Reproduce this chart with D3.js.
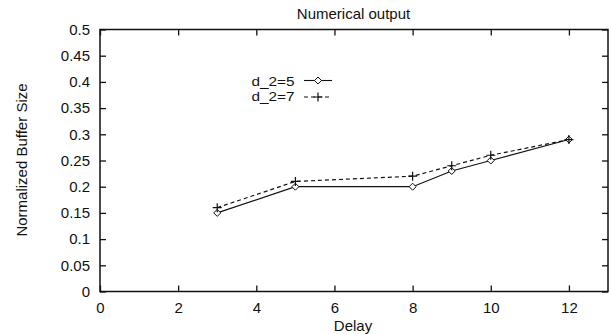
<!DOCTYPE html>
<html>
<head>
<script src="https://cdn.jsdelivr.net/npm/d3@7"></script>
<style>
  body { margin: 0; background: #fff; }
  text { font-family: "Liberation Sans", Arial, sans-serif; fill: #111; }
</style>
</head>
<body>
<div id="chart"></div>
<script>
// data
var delays = [3, 5, 8, 9, 10, 12];
var d2_5 = [0.15, 0.2, 0.2, 0.23, 0.25, 0.29];
var d2_7 = [0.16, 0.21, 0.22, 0.24, 0.26, 0.29];
var xTicks = [0, 2, 4, 6, 8, 10, 12];
var yTicks = [0, 0.05, 0.1, 0.15, 0.2, 0.25, 0.3, 0.35, 0.4, 0.45, 0.5];

var W = 611, H = 334;
var margin = { top: 29.5, right: 3, bottom: 42.5, left: 100 };
var width = W - margin.left - margin.right;
var height = H - margin.top - margin.bottom;

var svg = d3.select("#chart").append("svg")
    .attr("width", W).attr("height", H);
var g = svg.append("g")
    .attr("transform", "translate(" + margin.left + "," + margin.top + ")");

var x = d3.scaleLinear().domain([0, 13]).range([0, width]);
var y = d3.scaleLinear().domain([0, 0.5]).range([height, 0]);

// frame
g.append("rect").attr("width", width).attr("height", height)
    .attr("fill", "none").attr("stroke", "#111").attr("stroke-width", 1.5);

// axes with inward ticks, mirrored on top/right
var fmt = function (d) { return d3.format("")(+d.toFixed(2)); };
var xb = g.append("g").attr("transform", "translate(0," + height + ")")
    .call(d3.axisBottom(x).tickValues(xTicks).tickSize(-6).tickPadding(11.3).tickFormat(fmt));
var xt = g.append("g")
    .call(d3.axisTop(x).tickValues(xTicks).tickSize(-6).tickFormat(""));
var yl = g.append("g")
    .call(d3.axisLeft(y).tickValues(yTicks).tickSize(-6).tickPadding(10).tickFormat(fmt));
var yr = g.append("g").attr("transform", "translate(" + width + ",0)")
    .call(d3.axisRight(y).tickValues(yTicks).tickSize(-6).tickFormat(""));
[xb, xt, yl, yr].forEach(function (a) {
    a.select(".domain").remove();
    a.selectAll("line").attr("stroke", "#111").attr("stroke-width", 1.3);
    a.selectAll("text").style("font-size", "15px")
        .style("font-family", "'Liberation Sans', Arial, sans-serif").attr("fill", "#111");
});

var line = d3.line().x(function (d) { return x(d[0]); }).y(function (d) { return y(d[1]); });
var s5 = d3.zip(delays, d2_5);
var s7 = d3.zip(delays, d2_7);

g.append("path").datum(s5).attr("d", line)
    .attr("fill", "none").attr("stroke", "#111").attr("stroke-width", 1.2);
g.append("path").datum(s7).attr("d", line)
    .attr("fill", "none").attr("stroke", "#111").attr("stroke-width", 1.2)
    .attr("stroke-dasharray", "4,3");

function diamond(sel, cx, cy) {
    sel.append("path")
        .attr("d", "M" + cx + "," + (cy - 3.5) + "L" + (cx + 3.5) + "," + cy + "L" + cx + "," + (cy + 3.5) + "L" + (cx - 3.5) + "," + cy + "Z")
        .attr("fill", "#fff").attr("stroke", "#111").attr("stroke-width", 1);
}
function plus(sel, cx, cy) {
    sel.append("path")
        .attr("d", "M" + (cx - 4.5) + "," + cy + "H" + (cx + 4.5) + "M" + cx + "," + (cy - 4.5) + "V" + (cy + 4.5))
        .attr("stroke", "#111").attr("stroke-width", 1.2);
}
s5.forEach(function (d) { diamond(g, x(d[0]), y(d[1])); });
s7.forEach(function (d) { plus(g, x(d[0]), y(d[1])); });

// legend
var leg = g.append("g").attr("transform", "translate(" + (-margin.left) + "," + (-margin.top) + ")");
var legRows = [
    { label: "d_2=5", base: 86, ly: 80.5, mark: diamond, dash: null },
    { label: "d_2=7", base: 100.5, ly: 97, mark: plus, dash: "4,3" }
];
legRows.forEach(function (r) {
    leg.append("text").attr("x", 251.5).attr("y", r.base)
        .attr("textLength", 43).attr("lengthAdjust", "spacingAndGlyphs")
        .style("font-size", "12px").text(r.label);
    leg.append("line").attr("x1", 304).attr("x2", 332).attr("y1", r.ly).attr("y2", r.ly)
        .attr("stroke", "#111").attr("stroke-width", 1.1).attr("stroke-dasharray", r.dash);
    r.mark(leg, 318, r.ly);
});

// titles
svg.append("text").attr("x", 353.5).attr("y", 18.5).attr("text-anchor", "middle")
    .style("font-size", "15px").text("Numerical output");
svg.append("text").attr("x", 353).attr("y", 330.5).attr("text-anchor", "middle")
    .style("font-size", "15px").text("Delay");
svg.append("text").attr("transform", "translate(27,160) rotate(-90)")
    .attr("text-anchor", "middle").style("font-size", "15px").text("Normalized Buffer Size");
</script>
</body>
</html>
